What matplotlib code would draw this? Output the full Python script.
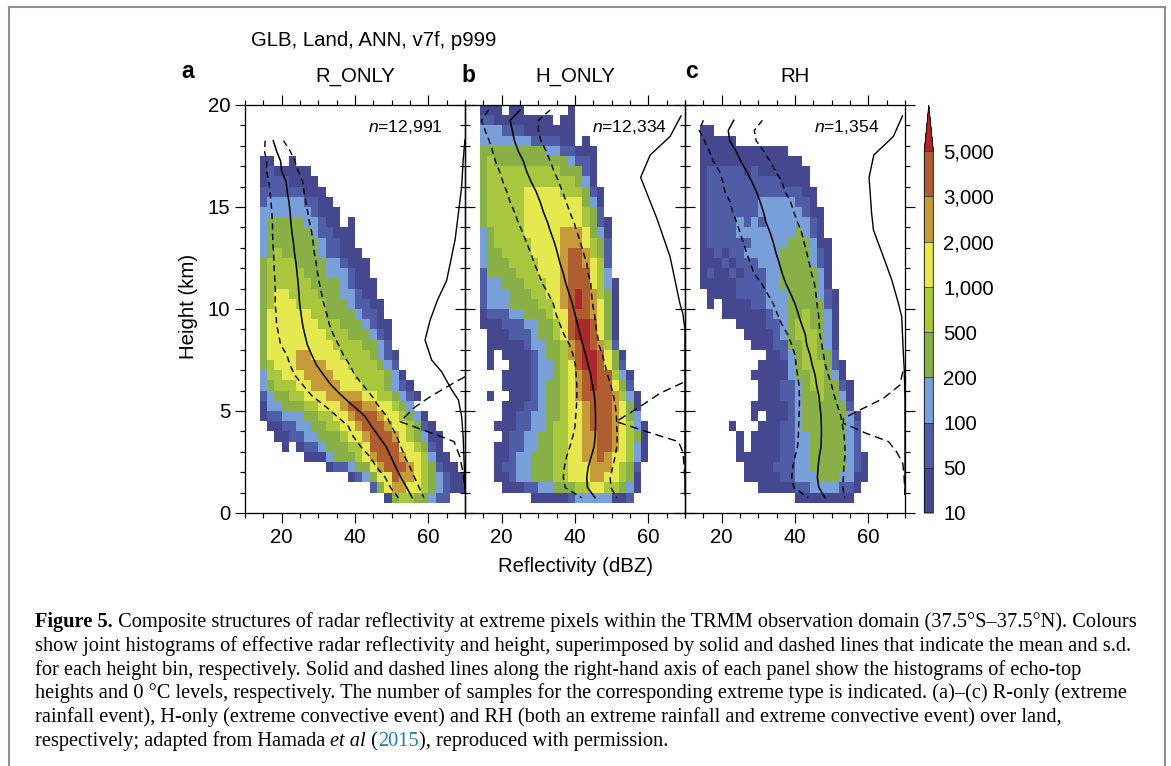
import numpy as np
import matplotlib
matplotlib.use("Agg")
import matplotlib.pyplot as plt
from matplotlib.colors import ListedColormap, BoundaryNorm
from matplotlib.cm import ScalarMappable
from matplotlib.lines import Line2D
from matplotlib.ticker import MultipleLocator, FixedLocator

W, H = 1171, 766
plt.rcParams['font.family'] = ['Liberation Sans', 'DejaVu Sans']
plt.rcParams['mathtext.fontset'] = 'custom'
plt.rcParams['mathtext.it'] = 'Liberation Sans:italic'
plt.rcParams['mathtext.rm'] = 'Liberation Sans'

# ---- data ----
LEVELS = [10, 50, 100, 200, 500, 1000, 2000, 3000, 5000]
LEVEL_LABELS = ['10', '50', '100', '200', '500', '1,000', '2,000', '3,000', '5,000']
COLOURS = ['#46488f', '#4f5ca6', '#789fd8', '#88b046', '#a9c63f', '#e6e84f', '#c69b3a', '#b05d30']
OVER_COLOUR = '#a8282b'
COUNT_FOR_CLASS = [np.nan, 30, 75, 150, 350, 750, 1500, 2500, 4000, 6000]

# each string is one height bin (0.5 km), top to bottom; each digit one 2-dBZ bin from 14 dBZ
R_ONLY_CLASSES = [
 "11 00 1", "1 2 11111", "1 222 1111", "222222 111", "2 33333 22 11", "3333333 2 111",
 "3 44444 33 2 11 0 1", "3 444444 3 22 111", "3 4444444 3 22 11", "3 4 5 44444 3 22 111",
 "4 5555 4444 33 2 111", "4 55555 444 333 2 11", "4 555555 4444 3 2 111",
 "4 5 66 5555 444 33 2 11", "4 5 666 5555 444 3 22 11", "4 666666 55 4444 3 22 1",
 "4 6666666 555 444 3 2 11", "4 66666666 555 444 3 2 1", "4 666666666 5555 44 3 2",
 "4 6666 77 6666 5555 4 3 2 1", "4 5 666 7777 666 5555 4 3 2", "3 55 666 7777 666 5555 4 3 1",
 "3 4 555 66 7777 666 555 4 3 2 1", "2 3 44 55 666 77777 66 55 4 3 2 1",
 "1 33 444 55 666 7 88 77 66 5 4 3", "1 22 333 44 55 66 7 888 7 66 5 4 3 1",
 "0 11 22 33 44 55 66 7 888 7 66 5 4 2 1", "00 11 22 33 444 5 66 7 888 7 6 5 4 3 11",
 "000 1 0 1 22 3 444 55 6 8888 66 5 4 2 1", "000000 111 3 444 5 6 7 888 7 66 5 3 11",
 "000000000 1 22 3 44 6 7 888 7 6 5 4 2 11", "000000000000 1 2 3 4 66 8 77 6 5 4 3 2 11",
 "000000000000000 2 4 6 77 66 5 4 3 2 11", "00000000000000000 1 4 55 44 3 22",
]
H_ONLY_CLASSES = [
 "111 0 11 000000 1", "22 11111111 0 11", "333 222 1111111", "3333333 2222 11 0 1",
 "444444444 33 22 111", "4 5 4444444444 3 22 1", "4 5555555555 444 2 1", "4 555555555555 4 3 1",
 "4 55555 66666 555 4 2 1", "4 55555 66666666 4 3 1", "4 55555 66666666 5 4 2",
 "4 55555 66666666 5 4 2 1", "3 4 5555 66666 777 6 4 3 1", "3 4 55555 6666 777 6 5 4 2",
 "3 44 5555 6666 7 88 7 5 4 2", "3 444 5555 666 7 88 7 6 5 2", "2 4444 555 666 7 888 6 5 3",
 "2 33 444 555 66 7 888 6 5 3 1", "2 333 444 55 66 7 8 9 8 7 5 4 1", "2 333 4444 55 6 7 8 9 8 7 6 4 1",
 "1 222 33 444 5 66 888 7 6 4 1", "111 222 33 44 5 6 8 99 8 6 4 1", "0 111 222 3 44 5 6 8 99 8 6 4 1",
 "0 11111 2 33 44 5 7 8 9 8 7 5 2", "0 1 0 1111 2 3 44 5 7 8 99 8 6 4 1", "0 1 00 111 2 33 4 5 6 8 99 8 6 4 2",
 "000 1111 2 33 4 5 6 7 8 9 88 5 3 1", "000 1111 2 3 44 5 6 7 8 9 88 6 4 2",
 "0 1 00 111 2 3 44 5 6 7 8888 7 5 3 1", "000 111 22 3 44 5 66 7 888 7 6 4 1",
 "000 11 22 33 44 5 66 7 888 7 6 4 3", "00 111 22 33 4 55 66 7 888 7 6 5 3 1",
 "000 1 22 33 44 55 66 77 88 7 6 5 4 1", "00 11 22 33 44 55 66 77 88 7 6 5 3 1",
 "00 11 2 33 444 55 66 77 8 7 66 5 3 1", "00 1 22 33 444 55 666 777 6 5 4 2",
 "00 11 2 33 444 55 666 77 66 5 4 1", "000 111 22 33 444 55 66 55 4 3 1",
 "0000000 11111 2 33333 11 2",
]
RH_CLASSES = [
 "11", "11111", "111111111111", "11111111111111", "1 22222 1 2 1111111", "1 2222222222 1111",
 "1 2222222222222 11", "1 2222222 33333 22 1", "1 2222222 333333 2 11", "1 2222 3 2 3 2 333333 2 1",
 "1 2222 33333333 4 3 2 1", "1 222222 33333 444 3 11", "11 2 1 22 33333 4444 3 2 1",
 "111 2 1 222 333 4444 3 2 1", "1 2 11 2 1 222 33 44444 3 1", "11111 2222 33 44444 3 1",
 "0 1111 2222 333 4444 3 2 1", "0 1 0 1111 22 333 44444 2 1", "000 111111 2 33 44 5 44 3 1",
 "00000 1111 22 3 4 55 44 3 1", "000000 1111 2 3 4 555 4 3 1", "0000000 111 22 44 55 4 3 1",
 "000000000 11 2 3 4 55 44 2", "00000000 1111 3 4 555 4 2 1", "0000000 11111 3 44 55 4 3 1",
 "00000000 111 22 3 4 55 44 2 1", "00000000 111 22 3 44 5 44 3 1", "0000000 11111 2 3 444444 2",
 "0000000 1 0 111 2 3 444444 3 1", "0000 1 000 111 22 3 444444 3 2", "00000 1 0 1111 22 33 44444 3 2",
 "00000 1 0 1111 22 33 44444 3 2", "00000 111111 22 33 44444 3 2 1", "000000 1111 222 33 44444 3 2 1",
 "000000 11111 22 333 444 33 11", "00000000 11111 22 3333 22 1", "0000000000000 11111111",
]

# mean and mean +/- s.d. per height bin, top to bottom, ending at 0.75 km
R_MEAN = [17.7,18.6,19.7,20,21.2,21.5,22,22.3,22.5,22.8,23.2,23.5,23.9,24.2,24.5,24.7,24.9,25.3,25.7,26.3,27,28.2,29.5,31.5,33.6,36.4,39.5,42.7,44.5,46.5,48.5,49.8,51.1,52.5,54.1,55.6]
R_LOW = [15.5,15.3,15.9,15.9,16.5,16.8,17.1,17.3,17.5,17.5,17.6,17.8,17.9,18,18.2,18.3,18.2,18.5,18.6,19.2,19.7,21.4,22.3,23.6,25.9,28.2,31.8,35,38.2,39.5,41.6,44.1,45.9,48.2,49.7,51.8]
R_HIGH = [20.5,22.3,23.6,24.5,25.7,26.1,26.6,27.1,27.6,28.2,28.6,28.9,29.4,29.8,30.3,30.9,31.5,32.3,33,34.1,35.5,36.8,38.6,40,42.3,44.5,46.4,48.6,50,51.4,52.5,53.6,55,56.2,57.5,58.8]
H_MEAN = [25,22.3,22.9,23.5,24.5,25.9,26.8,28,29.4,30.5,31.4,32.5,33.4,34.4,35.2,35.9,36.8,37.5,38.4,39.3,40,40.7,41.4,42.1,42.9,43.6,44.3,44.8,45.3,45.5,45.6,45.6,45.5,45.2,44.4,43.6,43.2,43.4,45.5]
H_LOW = [16.4,14.5,15.5,16.6,17.5,18.3,19.4,20.3,21.4,22.3,23.5,24.5,25.7,26.8,27.9,28.9,30,31.1,32.7,34.1,34.8,35.9,37,38.5,39.5,40.1,40.3,40.5,40.5,40.4,40.2,40,39.4,38.6,37.7,37.1,36.8,37.3,41.8]
H_HIGH = [33.2,30,30,30.7,32.1,33.2,34.3,35.5,36.6,37.6,38.6,39.7,40.6,41.5,42.3,43.2,43.6,44.3,44.5,44.8,45.3,45.6,46.1,46.5,47.5,48.2,48.9,49.8,50.5,51,51.3,51.4,51.5,51.4,50.9,50.3,49.6,49.8,51.4]
RH_MEAN = [23.3,21.8,22.2,23.9,25.2,26.8,28.2,29.5,30.5,31.4,32.1,33.2,34.1,34.8,35.7,36.5,37.5,38.8,40,40.9,41.8,42.8,43.2,44.1,44.7,45.5,45.9,46.5,46.8,47.1,47.2,47.2,47.1,46.6,46.3,46.1,46.5,48.2]
RH_LOW = [15,13.9,15.3,16.6,17.7,19.4,20.3,20.9,22.3,23,24.1,25,25.9,26.8,27.8,28.8,30.9,32.5,34.1,35.2,36.4,38,39.1,40,40.3,40.7,41.1,41.2,41.2,41.1,41,40.9,40.7,40,39.4,39.1,39.7,43.6]
RH_HIGH = [31.1,28.9,29.4,31.4,33.2,34.7,36.4,37.3,38.8,39.7,40.7,41.8,42.5,43.2,43.9,44.5,45.3,45.7,46,46.4,46.6,46.8,47.3,47.8,48.3,49.1,50,50.7,51.6,52.5,53,53.4,53.6,53.6,53.3,53.2,53,53.6]

# histograms along the right-hand axis, read in axis units
R_TOP_X = [70,69.5,69.1,68.2,67.3,65,62.5,60.5,59.1,60.9,63.6,66.4,68.2,69.1,69.5,69.8,70]
R_TOP_H = [18.3,17.3,16,14.7,13.4,11.4,10.44,9.46,8.48,7.5,6.93,6.03,5.54,4.72,3.74,2.27,0.96]
R_ZERO_X = [70,65.9,60.5,56.4,52.3,63.6,67,68.6,69.5,70]
R_ZERO_H = [6.68,6.27,5.7,5.2,4.48,3.74,3.5,2.76,1.94,1.05]
H_TOP_X = [68.9,65.9,60.5,57.9,62.3,65.9,68.6,69.4,70,70]
H_TOP_H = [19.46,18.45,17.55,16.45,14.45,12.58,10.28,9.79,8.97,0.9]
H_ZERO_X = [69.4,63.2,57.7,51.2,59.5,68.2,69.4,69.7,70]
H_ZERO_H = [6.39,5.87,5.21,4.48,3.99,3.5,3.0,2.43,1.5]
RH_TOP_X = [69.3,66.8,61.5,60.2,60.9,61.4,64.1,66.4,68.2,69.1,69.5,69.8,70,70]
RH_TOP_H = [19.46,18.45,17.55,16.45,14.69,13.87,12.56,11.42,10.28,9.62,7.99,7.0,5.5,0.9]
RH_ZERO_X = [69.4,68.6,64.1,59.5,53.2,53.2,59.5,65.5,67.7,69.4,69.7,70]
RH_ZERO_H = [6.93,6.27,5.62,5.21,4.64,4.4,3.9,3.5,3.0,2.43,1.94,0.9]

PANELS = [
 dict(tag='a', title='R_ONLY', n='12,991', classes=R_ONLY_CLASSES, mean=R_MEAN, low=R_LOW, high=R_HIGH,
      tx=R_TOP_X, th=R_TOP_H, zx=R_ZERO_X, zh=R_ZERO_H, l=245, tagx=181, tagy=72, nr=443),
 dict(tag='b', title='H_ONLY', n='12,334', classes=H_ONLY_CLASSES, mean=H_MEAN, low=H_LOW, high=H_HIGH,
      tx=H_TOP_X, th=H_TOP_H, zx=H_ZERO_X, zh=H_ZERO_H, l=465, tagx=461, tagy=75, nr=667),
 dict(tag='c', title='RH', n='1,354', classes=RH_CLASSES, mean=RH_MEAN, low=RH_LOW, high=RH_HIGH,
      tx=RH_TOP_X, th=RH_TOP_H, zx=RH_ZERO_X, zh=RH_ZERO_H, l=685, tagx=685, tagy=72, nr=879),
]

CAPTION = [
 [("Figure 5.", 'bold', 'k'), (" Composite structures of radar reflectivity at extreme pixels within the TRMM observation domain (37.5°S–37.5°N). Colours", 'normal', 'k')],
 [("show joint histograms of effective radar reflectivity and height, superimposed by solid and dashed lines that indicate the mean and s.d.", 'normal', 'k')],
 [("for each height bin, respectively. Solid and dashed lines along the right-hand axis of each panel show the histograms of echo-top", 'normal', 'k')],
 [("heights and 0 °C levels, respectively. The number of samples for the corresponding extreme type is indicated. (a)–(c) R-only (extreme", 'normal', 'k')],
 [("rainfall event), H-only (extreme convective event) and RH (both an extreme rainfall and extreme convective event) over land,", 'normal', 'k')],
 [("respectively; adapted from Hamada ", 'normal', 'k'), ("et al", 'italic', 'k'), (" (", 'normal', 'k'), ("2015", 'normal', '#1f7fb5'), ("), reproduced with permission.", 'normal', 'k')],
]

# ---- drawing ----
fig = plt.figure(figsize=(W / 100, H / 100), dpi=100)
fx = lambda p: p / W
fy = lambda p: 1 - p / H

TXT = 14.7
cmap = ListedColormap(COLOURS)
cmap.set_over(OVER_COLOUR)
norm = BoundaryNorm(LEVELS, cmap.N, clip=False)

top, bottom, width = 105, 513, 220
for i, p in enumerate(PANELS):
    ax = fig.add_axes([fx(p['l']), fy(bottom), width / W, (bottom - top) / H], facecolor='none')
    rows = [r.replace(' ', '').ljust(28, '0') for r in p['classes']]
    grid = np.array([[COUNT_FOR_CLASS[int(c)] for c in r] for r in rows])[::-1]
    xedges = np.arange(14, 71, 2)
    yedges = 0.5 + 0.5 * np.arange(len(rows) + 1)
    ax.pcolormesh(xedges, yedges, np.ma.masked_invalid(grid), cmap=cmap, norm=norm, linewidth=0, antialiased=False, zorder=1)

    centres = 0.75 + 0.5 * np.arange(len(p['mean']))[::-1]
    ax.plot(p['mean'], centres, color='k', lw=1.1, zorder=3)
    for key in ('low', 'high'):
        ax.plot(p[key], centres, color='k', lw=1.0, dashes=(4.5, 3), zorder=3)
    ax.plot(p['tx'], p['th'], color='k', lw=1.0, zorder=3)
    ax.plot(p['zx'], p['zh'], color='k', lw=1.0, dashes=(6, 3.5), zorder=3)

    ax.set_xlim(10, 70)
    ax.set_ylim(0, 20)
    ax.xaxis.set_major_locator(FixedLocator([20, 40, 60]))
    ax.xaxis.set_minor_locator(MultipleLocator(5))
    ax.yaxis.set_major_locator(MultipleLocator(5))
    ax.yaxis.set_minor_locator(MultipleLocator(1))
    ax.tick_params(which='major', length=7.2, width=0.85, top=True, right=True, labelsize=TXT, pad=3.5)
    ax.tick_params(which='minor', length=3.4, width=0.85, top=True, right=True)
    if i > 0:
        ax.tick_params(labelleft=False)
    for s in ax.spines.values():
        s.set_linewidth(0.95)
        s.set_zorder(5)
    fig.text(fx(p['l'] + width / 2), fy(76), p['title'], ha='center', va='center', fontsize=TXT)
    fig.text(fx(p['tagx']), fy(p['tagy']), p['tag'], ha='left', va='center', fontsize=16.5, fontweight='bold')
    fig.text(fx(p['nr']), fy(127), r'$\mathit{n}$=' + p['n'], ha='right', va='center', fontsize=12.6)

fig.text(fx(188), fy(306), 'Height (km)', ha='center', va='center', rotation=90, fontsize=TXT)
fig.text(fx(575), fy(566), 'Reflectivity (dBZ)', ha='center', va='center', fontsize=TXT)
fig.text(fx(251), fy(41), 'GLB, Land, ANN, v7f, p999', ha='left', va='center', fontsize=TXT)

# colour bar: the extension triangle sits inside the axes rectangle
cax = fig.add_axes([fx(924.3), fy(513), 9 / W, (513 - 105) / H])
cb = fig.colorbar(ScalarMappable(norm=norm, cmap=cmap), cax=cax, extend='max',
                  extendfrac=46 / 362, spacing='uniform', drawedges=True)
cb.set_ticks(LEVELS, labels=LEVEL_LABELS)
cb.minorticks_off()
cax.tick_params(length=0, labelsize=TXT, pad=7)
cb.outline.set_linewidth(0.6)
cb.dividers.set_linewidth(0.5)
cb.dividers.set_color('#222244')

# page frame
GREY = '#8f8f8f'
for xs, ys in (([8.5, 1165], [7, 7]), ([9, 9], [7, 766]), ([1165, 1165], [7, 766])):
    fig.add_artist(Line2D([fx(v) for v in xs], [fy(v) for v in ys], color=GREY, lw=1.5))

# caption
renderer = fig.canvas.get_renderer()
SERIF = ['Liberation Serif', 'DejaVu Serif']
CAP = 14.65
def adv(txt, weight, style):
    t = fig.text(0, 0, txt + '|', fontsize=CAP, family=SERIF, fontweight=weight, fontstyle=style)
    b = fig.text(0, 0, '|', fontsize=CAP, family=SERIF, fontweight=weight, fontstyle=style)
    w = t.get_window_extent(renderer).width - b.get_window_extent(renderer).width
    t.remove(); b.remove()
    return w
for k, line in enumerate(CAPTION):
    x = 35
    y = 627 + 23.8 * k
    for txt, kind, col in line:
        weight = 'bold' if kind == 'bold' else 'normal'
        style = 'italic' if kind == 'italic' else 'normal'
        fig.text(fx(x), fy(y), txt, fontsize=CAP, family=SERIF, fontweight=weight, fontstyle=style,
                 color=col, ha='left', va='baseline')
        x += adv(txt, weight, style)

fig.savefig('out.png', dpi=100, facecolor='white')
